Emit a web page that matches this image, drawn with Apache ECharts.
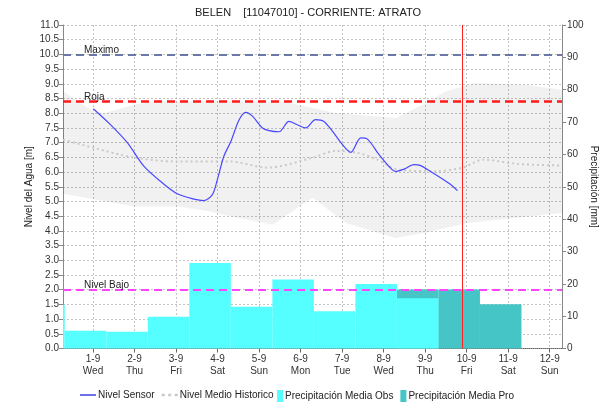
<!DOCTYPE html>
<html><head><meta charset="utf-8">
<script src="https://cdn.jsdelivr.net/npm/echarts@6/dist/echarts.min.js"></script>
<style>html,body{margin:0;padding:0;background:#fff}#c{width:616px;height:412px}</style>
</head><body><div id="c"></div>
<script>
// ---- data (x in days of September, 1 = 1-9) ----
const dayTicks = [1,2,3,4,5,6,7,8,9,10,11,12];
const dayLabels = ['1-9','2-9','3-9','4-9','5-9','6-9','7-9','8-9','9-9','10-9','11-9','12-9'];
const weekdayLabels = ['Wed','Thu','Fri','Sat','Sun','Mon','Tue','Wed','Thu','Fri','Sat','Sun'];

const sensorLevel = [
  [1.007,8.15],[1.42,7.61],[1.83,6.99],[2.23,6.19],[2.63,5.68],[3.03,5.26],[3.43,5.08],[3.67,5.03],
  [3.875,5.23],[3.995,5.74],[4.15,6.53],[4.32,7.04],[4.52,7.78],[4.68,8.03],[4.84,7.90],[5.08,7.50],
  [5.24,7.41],[5.48,7.37],[5.72,7.72],[5.92,7.61],[6.12,7.50],[6.36,7.78],[6.56,7.72],[6.77,7.38],
  [7.01,6.93],[7.21,6.67],[7.45,7.16],[7.61,7.12],[7.89,6.59],[8.13,6.19],[8.29,6.02],[8.49,6.10],
  [8.73,6.25],[8.89,6.22],[9.13,6.02],[9.38,5.80],[9.62,5.57],[9.78,5.37]
];
const historicMean = [
  [0.28,7.10],[1.0,6.83],[2.0,6.49],[3.0,6.36],[4.3,6.36],[5.2,6.15],[6.3,6.49],[6.85,6.72],
  [7.35,6.66],[7.85,6.42],[8.35,6.08],[9.25,6.03],[9.9,6.15],[10.4,6.42],[11.2,6.28],[12.3,6.22]
];
const historicMax = [
  [0.28,8.75],[1.0,8.07],[1.25,8.0],[2.0,8.3],[2.5,8.4],[4.0,8.42],[5.65,8.38],[6.85,8.01],
  [8.3,7.84],[8.95,8.3],[9.5,8.75],[10.2,9.03],[11.4,8.97],[12.3,8.8]
];
const historicMin = [
  [0.28,5.26],[1.98,4.83],[3.04,4.83],[3.83,4.66],[4.32,4.49],[5.33,4.21],[6.29,5.13],[7.09,4.27],
  [8.29,3.76],[8.97,3.93],[10.03,4.27],[12.3,4.61]
];
const precipObsDays = [0,1,2,3,4,5,6,7,8,9];
const precipObs = [13.5,5.5,5.2,9.8,26.4,12.9,21.3,11.5,19.9,15.5];
const precipProDays = [9,10,11];
const precipPro = [18.2,18.2,13.7];

const levelMaximo = 10.0;
const levelRoja = 8.4;
const levelBajo = 2.0;
const nowDay = 9.88;

// ---- build ----
const barOffsetStart = -0.68, barOffsetEnd = 0.32;
const obsData = precipObsDays.map((d,i)=>[d+barOffsetStart, d+barOffsetEnd, precipObs[i]]);
const proData = precipProDays.map((d,i)=>[d+barOffsetStart, d+barOffsetEnd, precipPro[i]]);

function renderBar(params, api){
  const p0 = api.coord([api.value(0), 0]);
  const p1 = api.coord([api.value(1), api.value(2)]);
  const cs = params.coordSys;
  const r = echarts.graphic.clipRectByRect(
    {x:p0[0], y:p1[1], width:p1[0]-p0[0], height:p0[1]-p1[1]},
    {x:cs.x, y:cs.y, width:cs.width, height:cs.height});
  return r && {type:'rect', shape:r, style:api.style()};
}
function renderBand(params, api){
  const pts = [];
  historicMax.forEach(p=>pts.push(api.coord(p)));
  for (let i=historicMin.length-1;i>=0;i--) pts.push(api.coord(historicMin[i]));
  return {type:'polygon', shape:{points:pts}, style:{fill:'rgba(0,0,0,0.055)'}};
}
function renderNow(params, api){
  const cs = params.coordSys;
  const x = Math.round(api.coord([api.value(0), 0])[0]) + 0.5;
  return {type:'line', shape:{x1:x, y1:cs.y, x2:x, y2:cs.y+cs.height},
    style:{stroke:'#ff2020', lineWidth:1}};
}

const FONT = "'Liberation Sans', Arial, sans-serif";
const legendText = {fontSize:10, color:'#222', padding:[0,0,0,-3]};
const chart = echarts.init(document.getElementById('c'), null, {renderer:'canvas'});
chart.setOption({
  animation:false,
  textStyle:{fontFamily:FONT},
  title:{text:'BELEN    [11047010] - CORRIENTE: ATRATO', left:'center', top:2,
    textStyle:{fontSize:11, fontWeight:'normal', color:'#222', fontFamily:FONT}},
  grid:{left:63, right:54, top:25, bottom:63.5},
  legend:[
    {left:75, top:385, itemWidth:16, itemHeight:12, itemGap:7, textStyle:legendText,
      data:[{name:'Nivel Sensor', icon:'path://M0,0h16v1.3h-16z'},
            {name:'Nivel Medio Historico', icon:'path://M0,0h2.5v2h-2.5zM5.5,0h2.5v2h-2.5zM11,0h2.5v2h-2.5z'}]},
    {left:272, top:385, itemWidth:6, itemHeight:12, itemGap:7, textStyle:legendText,
      data:[{name:'Precipitación Media Obs', icon:'rect'},
            {name:'Precipitación Media Pro', icon:'rect'}]}
  ],
  xAxis:{type:'value', min:0.2775, max:12.296,
    axisLine:{lineStyle:{color:'#666', type:'dotted'}},
    axisTick:{customValues:dayTicks, length:4, lineStyle:{color:'#666'}},
    axisLabel:{customValues:dayTicks, color:'#333', fontSize:10, lineHeight:12, margin:5,
      formatter:v=>{const i=dayTicks.indexOf(v); return i<0?'':dayLabels[i]+'\n'+weekdayLabels[i];}},
    splitLine:{show:true, lineStyle:{color:'#c4c4c4', type:[2,2]}}},
  yAxis:[
    {type:'value', min:0, max:11, interval:0.5, name:'Nivel del Agua [m]', nameLocation:'middle', nameGap:29,
      nameMoveOverlap:false,
      nameTextStyle:{fontSize:10, color:'#222'},
      axisLine:{show:true, lineStyle:{color:'#888'}},
      axisTick:{show:true, length:4, lineStyle:{color:'#888'}},
      axisLabel:{fontSize:10, color:'#333', margin:4, formatter:v=>v.toFixed(1)},
      splitLine:{show:true, lineStyle:{color:'#c4c4c4', type:[2,2]}}},
    {type:'value', min:0, max:100, interval:10, name:'Precipitación [mm]', nameLocation:'middle', nameGap:27, nameRotate:-90,
      nameMoveOverlap:false,
      nameTextStyle:{fontSize:10, color:'#222'},
      axisLine:{show:true, lineStyle:{color:'#888'}},
      axisTick:{show:true, length:4, lineStyle:{color:'#888'}},
      axisLabel:{fontSize:10, color:'#333', margin:5},
      splitLine:{show:false}}
  ],
  series:[
    {type:'custom', name:'band', renderItem:renderBand, data:[historicMax[0]], z:1, silent:true},
    {type:'custom', name:'Precipitación Media Pro', yAxisIndex:1, renderItem:renderBar, data:proData,
      encode:{x:[0,1], y:2}, itemStyle:{color:'#45c5c5'}, z:2},
    {type:'custom', name:'Precipitación Media Obs', yAxisIndex:1, renderItem:renderBar, data:obsData,
      encode:{x:[0,1], y:2}, itemStyle:{color:'#55ffff'}, z:3},
    {type:'line', name:'Nivel Medio Historico', data:historicMean, symbol:'none', smooth:0.3,
      lineStyle:{color:'#c8c8c8', width:2, type:[2,3]}, itemStyle:{color:'#c8c8c8'}, z:4},
    {type:'custom', name:'now', renderItem:renderNow, data:[[nowDay, 0]], encode:{x:0, y:1}, z:6, silent:true},
    {type:'line', name:'Nivel Sensor', data:sensorLevel, symbol:'none', smooth:0.3,
      lineStyle:{color:'#4848ff', width:1.2}, itemStyle:{color:'#2020dd'}, z:5,
      markLine:{symbol:'none', silent:true, animation:false,
        data:[
          {yAxis:levelMaximo, lineStyle:{color:'#6a78a8', type:[8,5], width:2},
            label:{formatter:'Maximo', position:'insideStartTop', distance:[21,-1], color:'#222', fontSize:10}},
          {yAxis:levelRoja, lineStyle:{color:'#ff1a1a', type:[8,5], width:2.5},
            label:{formatter:'Roja', position:'insideStartTop', distance:[21,-1], color:'#222', fontSize:10}},
          {yAxis:levelBajo, lineStyle:{color:'#ff44ff', type:[8,5], width:2},
            label:{formatter:'Nivel Bajo', position:'insideStartTop', distance:[21,-1], color:'#222', fontSize:10}}
        ]}}
  ]
});
</script></body></html>
